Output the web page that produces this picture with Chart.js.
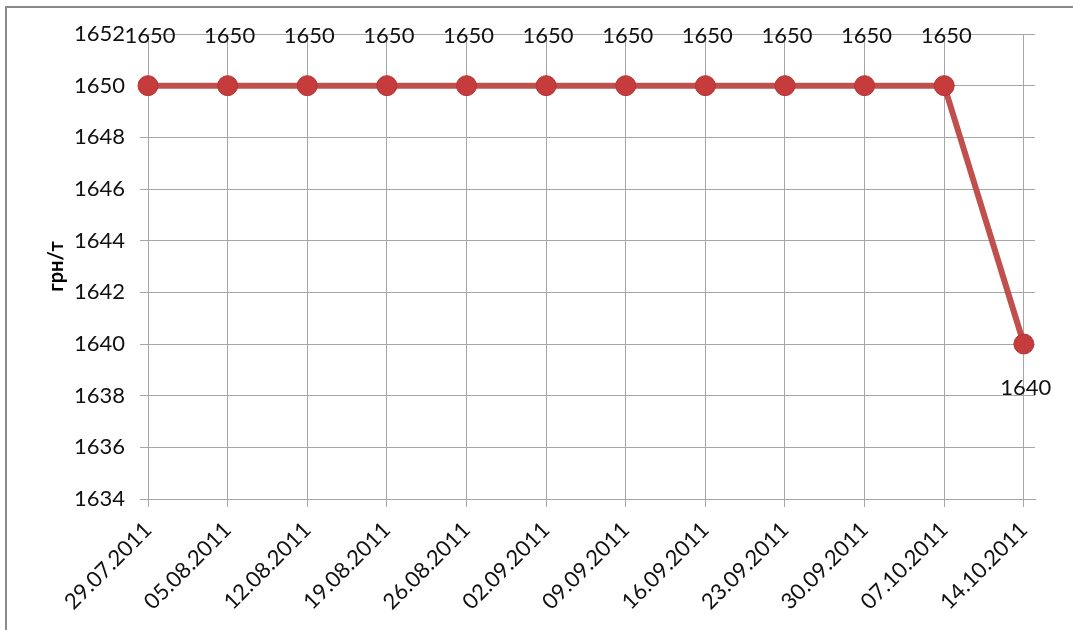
<!DOCTYPE html>
<html>
<head>
<meta charset="utf-8">
<script src="https://cdn.jsdelivr.net/npm/chart.js@4/dist/chart.umd.min.js"></script>
<style>
  body { margin: 0; background: #fff; }
  #wrap { position: relative; width: 1073px; height: 630px; }
  #frame {
    position: absolute; left: 5px; top: 6px; right: -10px; bottom: -10px;
    border-top: 2px solid #8a8a8a; border-left: 2px solid #8a8a8a;
  }
  canvas { position: absolute; left: 0; top: 0; }
</style>
</head>
<body>
<div id="wrap">
  <div id="frame"></div>
  <canvas id="grafico" width="1073" height="630"></canvas>
</div>
<script>
// datos
const fechas = [
  "29.07.2011",
  "05.08.2011",
  "12.08.2011",
  "19.08.2011",
  "26.08.2011",
  "02.09.2011",
  "09.09.2011",
  "16.09.2011",
  "23.09.2011",
  "30.09.2011",
  "07.10.2011",
  "14.10.2011",
];
const precios = [1650, 1650, 1650, 1650, 1650, 1650, 1650, 1650, 1650, 1650, 1650, 1640];
const ejeY = { min: 1634, max: 1652, paso: 2 };
const tituloY = "грн/т";

const gris = "#a6a6a6";
const fuente = "Lato, 'Open Sans', sans-serif";

/* etiquetas de valores (sin plugin datalabels) */
const etiquetas = {
  id: "etiquetas",
  afterDatasetsDraw(chart) {
    const ctx = chart.ctx;
    const meta = chart.getDatasetMeta(0);
    ctx.save();
    ctx.font = `22px ${fuente}`;
    ctx.fillStyle = "#111";
    ctx.textAlign = "center";
    ctx.textBaseline = "middle";
    meta.data.forEach((p, i) => {
      const v = precios[i];
      const abajo = i > 0 && v < precios[i - 1];
      ctx.fillText(String(v), p.x + 2, abajo ? p.y + 44 : p.y - 50);
    });
    ctx.restore();
  },
};

new Chart(document.getElementById("grafico"), {
  type: "line",
  data: {
    datasets: [
      {
        data: precios.map((v, i) => ({ x: i, y: v })),
        borderColor: "#c0504d",
        borderWidth: 6,
        pointRadius: 10,
        pointHoverRadius: 10,
        pointBackgroundColor: "#c63b3b",
        pointBorderColor: "#b33535",
        pointBorderWidth: 1,
        tension: 0,
        clip: false,
      },
    ],
  },
  plugins: [etiquetas],
  options: {
    responsive: false,
    animation: false,
    events: [],
    layout: { padding: { top: 34, right: 38, left: 0, bottom: 0 } },
    plugins: { legend: { display: false }, tooltip: { enabled: false } },
    scales: {
      x: {
        type: "linear",
        min: 0,
        max: 11.14,
        afterFit: (s) => { s.height = 131; },
        grid: { color: gris, lineWidth: 1, tickLength: 8, drawTicks: true },
        border: { color: gris, width: 1 },
        ticks: {
          stepSize: 1,
          includeBounds: false,
          autoSkip: false,
          minRotation: 45,
          maxRotation: 45,
          padding: 10,
          color: "#111",
          font: { family: fuente, size: 22 },
          callback: (v) => fechas[v] ?? "",
        },
      },
      y: {
        min: ejeY.min,
        max: ejeY.max,
        afterFit: (s) => { s.width = 148; },
        grid: { color: gris, lineWidth: 1, tickLength: 8 },
        border: { color: gris, width: 1 },
        ticks: {
          stepSize: ejeY.paso,
          padding: 15,
          color: "#111",
          font: { family: fuente, size: 22 },
          callback: (v) => String(v),
        },
        title: {
          display: true,
          text: tituloY,
          color: "#000",
          font: { family: fuente, size: 20, weight: "bold" },
          padding: { top: 45, bottom: 0 },
        },
      },
    },
  },
});
</script>
</body>
</html>
